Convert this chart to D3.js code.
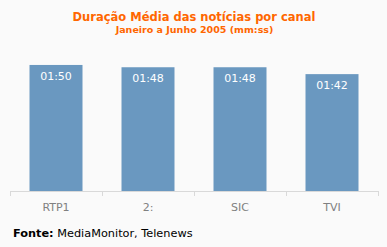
<!DOCTYPE html>
<html><head><meta charset="utf-8">
<script src="https://cdn.jsdelivr.net/npm/d3@7"></script>
<style>
html,body{margin:0;padding:0;background:#FAFAFA;}
svg{display:block;}
</style></head>
<body>
<svg id="c" width="387" height="247"></svg>
<script>
const categories = ["RTP1", "2:", "SIC", "TVI"];
const seconds = [110, 108, 108, 102];
const valueLabels = ["01:50", "01:48", "01:48", "01:42"];
const title = "Duração Média das notícias por canal";
const subtitle = "Janeiro a Junho 2005 (mm:ss)";

const svg = d3.select("#c");
svg.append("rect").attr("width",387).attr("height",247).attr("fill","#FAFAFA");

const x = d3.scaleBand().domain(categories).range([10,378]).padding(0);
const y = d3.scaleLinear().domain([0,120]).range([191,53.5]);
const bw = 53;

svg.append("text").attr("x",194).attr("y",21).attr("text-anchor","middle")
  .attr("font-family","DejaVu Sans, Verdana, sans-serif").attr("font-weight","bold")
  .attr("font-size","11.5px").attr("fill","#FF6600").text(title);
svg.append("text").attr("x",194.5).attr("y",33).attr("text-anchor","middle")
  .attr("font-family","DejaVu Sans, Verdana, sans-serif").attr("font-weight","bold")
  .attr("font-size","9.5px").attr("fill","#FF6600").text(subtitle);

const g = svg.append("g");
g.selectAll("rect.bar").data(categories).join("rect").attr("class","bar")
  .attr("x", d => x(d) + (x.bandwidth()-bw)/2)
  .attr("width", bw)
  .attr("y", (d,i) => y(seconds[i]))
  .attr("height", (d,i) => y(0) - y(seconds[i]))
  .attr("fill","#6A98C0");

g.selectAll("text.val").data(categories).join("text").attr("class","val")
  .attr("x", d => x(d) + x.bandwidth()/2)
  .attr("y", (d,i) => y(seconds[i]) + 15)
  .attr("text-anchor","middle")
  .attr("font-family","DejaVu Sans, Verdana, sans-serif")
  .attr("font-size","11px").attr("fill","#FFFFFF")
  .text((d,i) => valueLabels[i]);

// axis
const ax = svg.append("g").attr("stroke","#D9D9D9").attr("stroke-width",1).attr("shape-rendering","crispEdges");
ax.append("line").attr("x1",10).attr("x2",378).attr("y1",191.5).attr("y2",191.5);
const bounds = categories.map(d => x(d)).concat([x(categories[categories.length-1]) + x.bandwidth()]);
ax.selectAll("line.t").data(bounds).join("line").attr("class","t")
  .attr("x1", d => Math.round(d)+0.5).attr("x2", d => Math.round(d)+0.5)
  .attr("y1",191).attr("y2",196);

svg.selectAll("text.cat").data(categories).join("text").attr("class","cat")
  .attr("x", d => x(d) + x.bandwidth()/2)
  .attr("y", 211)
  .attr("text-anchor","middle")
  .attr("font-family","DejaVu Sans, Verdana, sans-serif")
  .attr("font-size","11px").attr("fill","#808080")
  .text(d => d);

const f = svg.append("text").attr("x",13).attr("y",237)
  .attr("font-family","DejaVu Sans, Verdana, sans-serif").attr("font-size","11.3px").attr("fill","#000");
f.append("tspan").attr("font-weight","bold").text("Fonte:");
f.append("tspan").text(" MediaMonitor, Telenews");
</script>
</body></html>
